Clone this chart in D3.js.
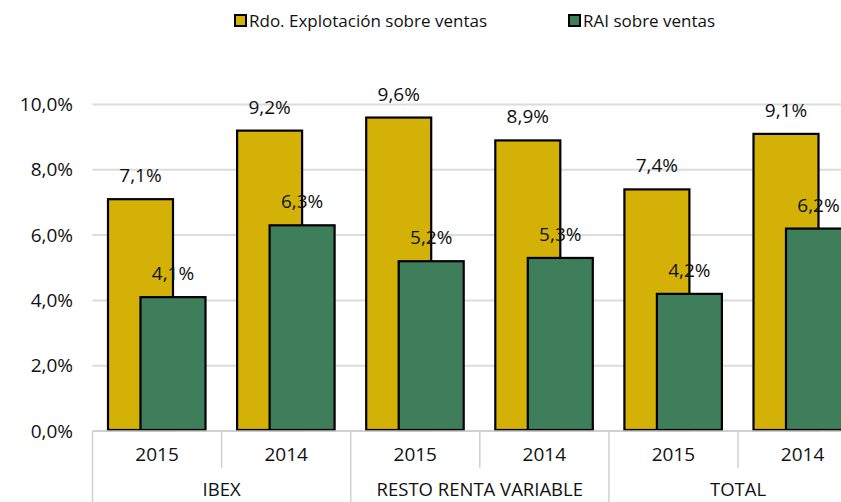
<!DOCTYPE html>
<html>
<head>
<meta charset="utf-8">
<script src="https://cdn.jsdelivr.net/npm/d3@7"></script>
<style>
  html, body { margin: 0; padding: 0; background: #fff; }
  svg { display: block; font-family: "Open Sans", "Noto Sans", sans-serif; }
</style>
</head>
<body>
<svg id="chart" width="841" height="502"></svg>
<script>
// ---- data ----
const groups = ["IBEX", "RESTO RENTA VARIABLE", "TOTAL"];
const years = ["2015", "2014"];
const seriesNames = ["Rdo. Explotación sobre ventas", "RAI sobre ventas"];
const explotacion = [7.1, 9.2, 9.6, 8.9, 7.4, 9.1];
const rai = [4.1, 6.3, 5.2, 5.3, 4.2, 6.2];
const yTicks = [0, 2, 4, 6, 8, 10];
const colors = ["#D4B106", "#3E7E5A"];

const categories = [];
groups.forEach(g => years.forEach(y => categories.push({ group: g, year: y, key: g + "|" + y })));
const seriesValues = [explotacion, rai];

const svg = d3.select("#chart");
const x0 = 92.5, step = 129.1;
const y = d3.scaleLinear().domain([0, 10]).range([431, 104.5]);
const x = d3.scaleBand().domain(categories.map(c => c.key))
  .range([x0, x0 + step * categories.length]).paddingInner(0).paddingOuter(0);
const xs = d3.scalePoint().domain(seriesNames).range([48, 80.5]);
const barW = 65;

const loc = d3.formatLocale({ decimal: ",", thousands: ".", grouping: [3], currency: ["", "€"] });
const fmt1 = loc.format(".1f");

// gridlines
svg.append("g").selectAll("line").data(yTicks.filter(t => t > 0)).join("line")
  .attr("x1", x0).attr("x2", 841)
  .attr("y1", d => y(d)).attr("y2", d => y(d))
  .attr("stroke", "#dcdcdc").attr("stroke-width", 2);

// y axis labels
const yAxis = d3.axisLeft(y).tickValues(yTicks).tickSize(0).tickPadding(0)
  .tickFormat(d => fmt1(d) + "%");
const ya = svg.append("g").attr("transform", "translate(73,0)").call(yAxis);
ya.select(".domain").remove();
ya.selectAll("text").attr("font-size", 19).attr("fill", "#111").attr("font-family", "Open Sans");

// bars
seriesNames.forEach((s, si) => {
  const g = svg.append("g");
  g.selectAll("rect").data(categories).join("rect")
    .attr("x", (d) => x(d.key) + xs(s) - barW / 2)
    .attr("width", barW)
    .attr("y", (d, i) => y(seriesValues[si][i]))
    .attr("height", (d, i) => y(0) - y(seriesValues[si][i]) - 1)
    .attr("fill", colors[si]).attr("stroke", "#000").attr("stroke-width", 2.2);
});
// value labels
seriesNames.forEach((s, si) => {
  svg.append("g").selectAll("text").data(categories).join("text")
    .attr("x", d => x(d.key) + xs(s))
    .attr("y", (d, i) => y(seriesValues[si][i]) - 17)
    .attr("text-anchor", "middle")
    .attr("font-size", 19).attr("fill", "#111")
    .text((d, i) => fmt1(seriesValues[si][i]) + "%");
});

// x axis line
const axisY = y(0);
svg.append("line").attr("x1", x0).attr("x2", 841).attr("y1", axisY).attr("y2", axisY)
  .attr("stroke", "#c0c0c0").attr("stroke-width", 1.5);

// dividers
categories.forEach((c, i) => {
  const xx = x(c.key);
  const full = (i % years.length) === 0;
  svg.append("line").attr("x1", xx).attr("x2", xx)
    .attr("y1", axisY).attr("y2", full ? 502 : 468)
    .attr("stroke", "#d0d0d0").attr("stroke-width", 1.5);
});

// year labels
svg.append("g").selectAll("text").data(categories).join("text")
  .attr("x", d => x(d.key) + x.bandwidth() / 2)
  .attr("y", 461)
  .attr("text-anchor", "middle").attr("font-size", 19).attr("fill", "#111")
  .text(d => d.year);

// group labels
svg.append("g").selectAll("text").data(groups).join("text")
  .attr("x", g => x(g + "|" + years[0]) + x.bandwidth())
  .attr("y", 496)
  .attr("text-anchor", "middle").attr("font-size", 18.5).attr("fill", "#111")
  .text(g => g);

// legend
const legX = [234, 568];
seriesNames.forEach((s, si) => {
  svg.append("rect").attr("x", legX[si] + 1).attr("y", 15).attr("width", 11).attr("height", 11)
    .attr("fill", colors[si]).attr("stroke", "#000").attr("stroke-width", 2);
  svg.append("text").attr("x", legX[si] + 15).attr("y", 27)
    .attr("font-size", 17).attr("fill", "#111").text(s);
});
</script>
</body>
</html>
